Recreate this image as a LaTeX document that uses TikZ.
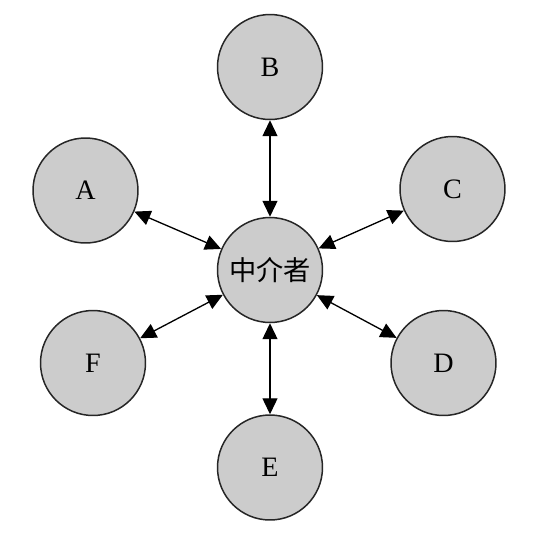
\documentclass[tikz,border=0pt]{standalone}
\usepackage{fontspec}
\setmainfont{Liberation Serif}
\newfontfamily\cjk{Noto Sans CJK SC}
\usetikzlibrary{arrows.meta}

\begin{document}
\begin{tikzpicture}[x=0.02cm, y=-0.02cm,
        party/.style={circle, draw=black!85, line width=0.85pt, fill=gray!40,
            minimum size=2.1cm, inner sep=0pt, font=\fontsize{16}{18}\selectfont},
        hub/.style={party, font=\cjk\fontsize{15.5}{18}\selectfont},
        link/.style={{Triangle[length=0.32cm,width=0.3cm]}-{Triangle[length=0.32cm,width=0.3cm]},
            line width=0.75pt}]
    \useasboundingbox (0,0) rectangle (550,556);
    \clip (0,0) rectangle (550,556);
    \fill[white] (0,0) rectangle (550,556);
    % mediator and parties
    \node[hub] (M) at (270,270) {中介者};
    \node[party] (A) at (85.5,190.5) {A};
    \node[party] (B) at (270,67) {B};
    \node[party] (C) at (452.5,189) {C};
    \node[party] (D) at (443.5,363) {D};
    \node[party] (E) at (270,467.5) {E};
    \node[party] (F) at (93,363) {F};
    \foreach \p in {A,B,C,D,E,F}
        \draw[link] (\p) -- (M);
    % caption, cut off at the bottom edge as in the source
    \node[font=\cjk\fontsize{15.5}{18}\selectfont] (cap) at (222,569) {图};
\end{tikzpicture}
\end{document}
